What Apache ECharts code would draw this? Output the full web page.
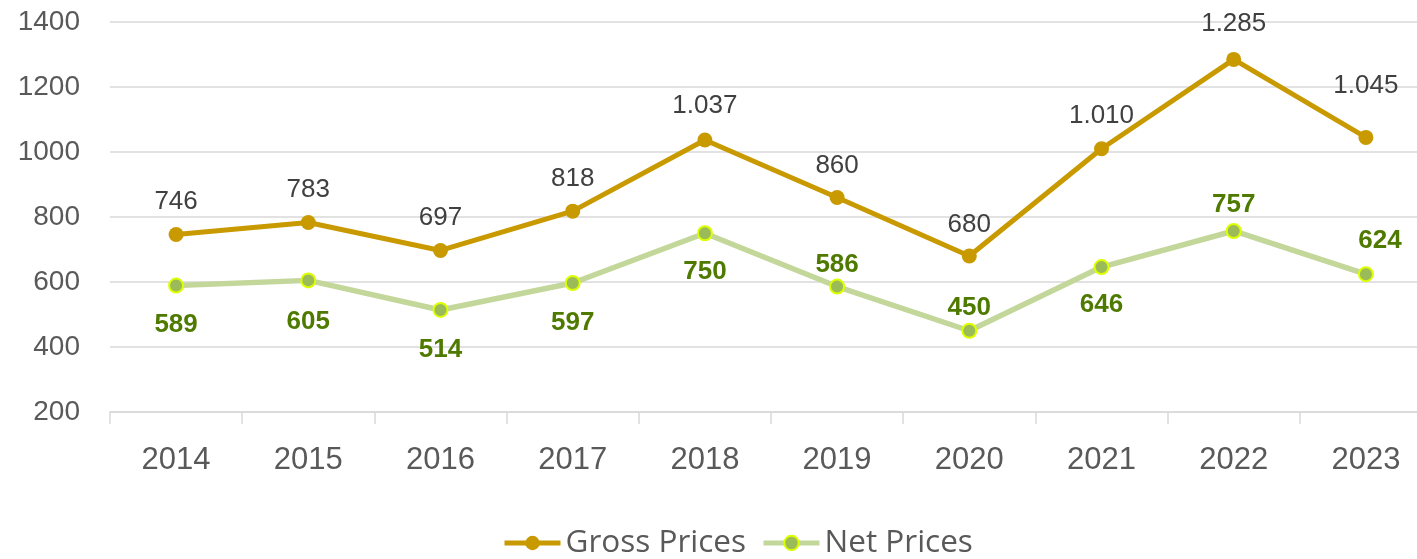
<!DOCTYPE html>
<html>
<head>
<meta charset="utf-8">
<script src="https://cdn.jsdelivr.net/npm/echarts@6/dist/echarts.min.js"></script>
<style>html,body{margin:0;padding:0;background:#fff}#c{width:1417px;height:559px}</style>
</head>
<body>
<div id="c"></div>
<script>
const categories = ['2014','2015','2016','2017','2018','2019','2020','2021','2022','2023'];
const grossPrices = [746, 783, 697, 818, 1037, 860, 680, 1010, 1285, 1045];
const netPrices = [589, 605, 514, 597, 750, 586, 450, 646, 757, 624];
const yTicks = [200, 400, 600, 800, 1000, 1200, 1400];

// label placement (style only)
const grossLabelDist = [12, 12, 12, 12, 14, 11, 11, 12, 15, 31];
const netLabelPos = ['bottom','bottom','bottom','bottom','bottom','top','top','bottom','top','top'];
const netLabelDist = [18, 20, 19, 19, 18, 1, 2, 17, 5, 12];

function fmt(v) {
  const s = String(v);
  return v >= 1000 ? s.slice(0, s.length - 3) + '.' + s.slice(-3) : s;
}

const chart = echarts.init(document.getElementById('c'), null, {renderer: 'canvas'});
chart.setOption({
  animation: false,
  grid: {left: 110, top: 22, width: 1322, height: 390, outerBoundsMode: 'none', containLabel: false},
  legend: {
    top: 527, left: 502, padding: 0,
    itemWidth: 56, itemHeight: 18, itemGap: 15,
    lineStyle: {width: 5},
    textStyle: {fontFamily: 'Open Sans', fontSize: 31.5, color: '#595959'},
    data: ['Gross Prices', 'Net Prices']
  },
  xAxis: {
    type: 'category', data: categories, boundaryGap: true,
    axisLine: {lineStyle: {color: '#D9D9D9', width: 1.5}},
    axisTick: {show: true, length: 12, lineStyle: {color: '#D9D9D9', width: 1.5}},
    axisLabel: {fontFamily: 'Liberation Sans', fontSize: 31, color: '#595959', margin: 33}
  },
  yAxis: {
    type: 'value', min: 200, max: 1400, interval: 200,
    axisLine: {show: false}, axisTick: {show: false},
    splitLine: {lineStyle: {color: '#D9D9D9', width: 1.5}},
    axisLabel: {fontFamily: 'Liberation Sans', fontSize: 28, color: '#595959', margin: 30,
      formatter: v => yTicks.includes(v) ? String(v) : ''}
  },
  series: [
    {
      name: 'Gross Prices', type: 'line',
      data: grossPrices.map((v, i) => ({value: v, label: {distance: grossLabelDist[i]}})),
      symbol: 'circle', symbolSize: 15,
      lineStyle: {color: '#C99A00', width: 5},
      itemStyle: {color: '#C99A00', borderColor: '#C99A00', borderWidth: 0},
      label: {show: true, position: 'top', fontFamily: 'Liberation Sans', fontSize: 26, color: '#404040',
        formatter: p => fmt(p.value)},
      z: 3
    },
    {
      name: 'Net Prices', type: 'line',
      data: netPrices.map((v, i) => ({value: v, label: {position: netLabelPos[i], distance: netLabelDist[i],
        offset: i === 9 ? [14, 0] : [0, 0]}})),
      symbol: 'circle', symbolSize: 14,
      lineStyle: {color: '#C4D79B', width: 5.5},
      itemStyle: {color: '#9BBB59', borderColor: '#DDFF00', borderWidth: 2},
      label: {show: true, fontFamily: 'Liberation Sans', fontSize: 26, fontWeight: 'bold', color: '#4F7A00',
        formatter: p => fmt(p.value)},
      z: 2
    }
  ]
});
</script>
</body>
</html>
